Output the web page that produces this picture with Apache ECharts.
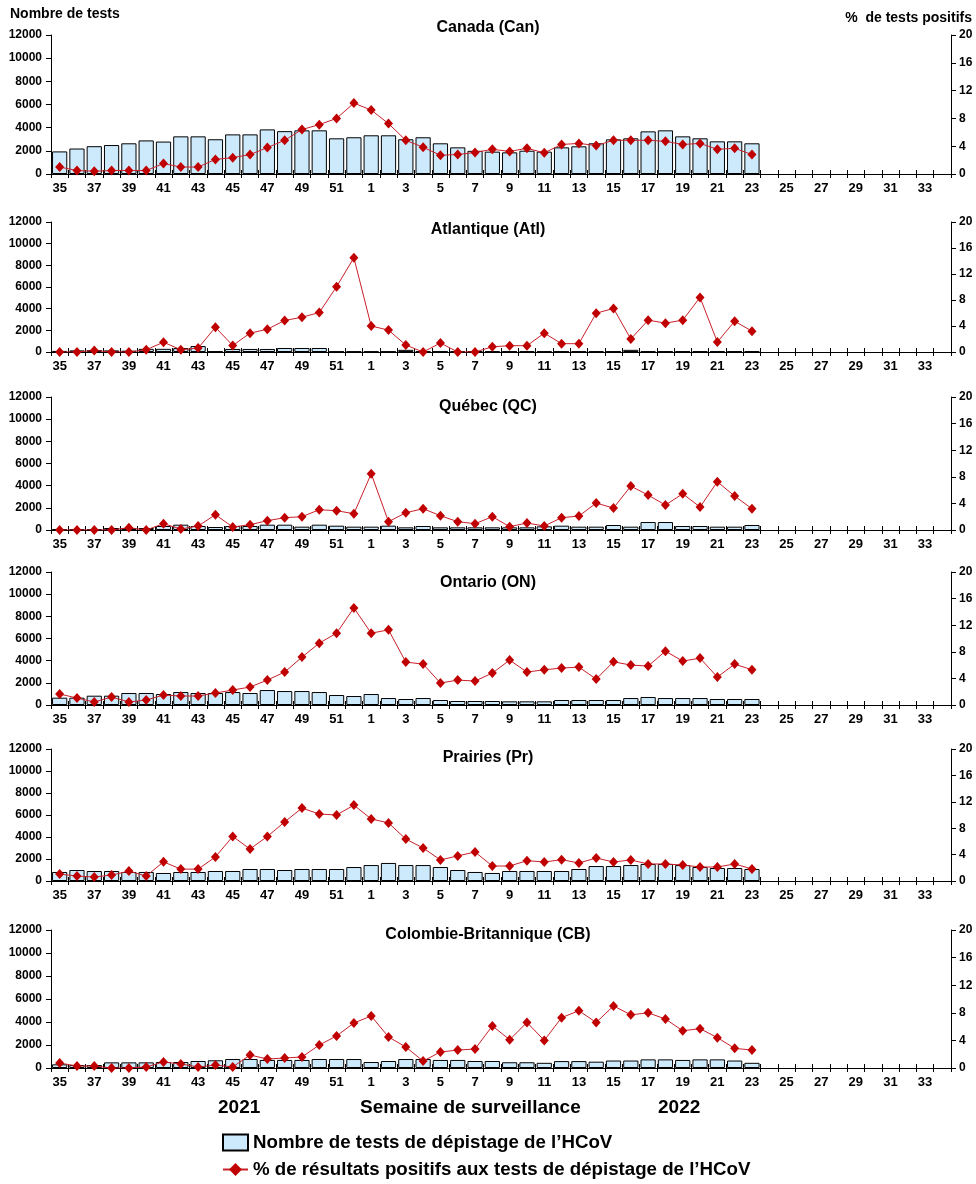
<!DOCTYPE html>
<html>
<head>
<meta charset="utf-8">
<script src="https://cdn.jsdelivr.net/npm/echarts@6/dist/echarts.min.js"></script>
<style>
html,body{margin:0;padding:0;background:#fff;}
#c{width:976px;height:1184px;}
</style>
</head>
<body>
<div id="c"></div>
<script>
// Surveillance weeks (2021 wk 35 – 2022 wk 34)
const weeks = ['35','36','37','38','39','40','41','42','43','44','45','46','47','48','49','50','51','52',
  '1','2','3','4','5','6','7','8','9','10','11','12','13','14','15','16','17','18','19','20','21','22','23',
  '24','25','26','27','28','29','30','31','32','33','34'];

const regionTitles = ['Canada (Can)','Atlantique (Atl)','Québec (QC)','Ontario (ON)','Prairies (Pr)','Colombie-Britannique (CB)'];

// Number of tests (weeks 35..23)
const testsCan = [1950,2200,2400,2500,2650,2900,2800,3250,3250,3000,3420,3420,3850,3700,3770,3770,3080,3170,
  3340,3340,3000,3170,2650,2300,2000,1930,1870,2010,1930,2300,2390,2650,2990,3080,3680,3770,3250,3080,2820,2820,2650];
const testsAtl = [100,150,180,150,120,290,290,360,550,60,280,280,280,370,370,370,50,50,
  50,50,200,50,60,60,60,60,60,60,60,60,60,60,60,200,60,60,60,60,60,60,60];
const testsQC = [60,60,90,180,180,180,360,480,360,270,360,360,480,480,300,480,390,300,
  300,390,240,360,240,240,240,240,240,240,330,390,300,300,450,300,720,720,360,360,300,300,450];
const testsON = [660,660,840,840,1080,1080,990,1170,1080,1080,1170,1080,1350,1260,1260,1170,900,810,
  990,630,540,630,450,360,360,360,330,330,330,450,450,450,450,630,720,630,630,630,540,540,540];
const testsPr = [820,1000,910,910,820,820,730,820,820,910,910,1090,1090,1000,1090,1090,1090,1270,
  1450,1640,1450,1450,1270,1000,820,730,910,910,910,910,1090,1360,1360,1450,1550,1550,1450,1270,1180,1180,1090];
const testsCB = [320,260,260,490,490,490,520,520,610,670,780,780,700,700,700,780,780,780,
  520,610,780,780,700,700,610,610,500,500,450,600,600,550,650,650,750,750,700,750,750,650,450];

// % positive (weeks 35..23)
const pctCan = [1.0,0.5,0.4,0.5,0.5,0.5,1.5,1.0,1.0,2.1,2.35,2.8,3.8,4.85,6.4,7.1,8.0,10.2,
  9.2,7.25,4.85,3.85,2.7,2.8,3.1,3.55,3.25,3.7,3.05,4.25,4.4,4.1,4.85,4.85,4.85,4.7,4.25,4.4,3.55,3.7,2.8];
const pctAtl = [0,0,0.25,0,0,0.35,1.5,0.35,0.6,3.8,1.0,2.9,3.5,4.85,5.35,6.07,10.05,14.5,
  4.0,3.37,1.07,0,1.38,0,0,0.8,0.97,0.97,2.9,1.28,1.28,5.97,6.7,2.0,4.9,4.44,4.9,8.4,1.53,4.74,3.2];
const pctQC = [0,0,0,0,0.35,0,0.95,0.15,0.6,2.3,0.45,0.8,1.4,1.85,2.0,3.05,2.9,2.45,
  8.47,1.25,2.6,3.2,2.15,1.25,0.95,2.0,0.5,1.05,0.6,1.85,2.1,4.05,3.3,6.6,5.25,3.75,5.45,3.45,7.25,5.1,3.2];
const pctON = [1.65,1.05,0.45,1.2,0.45,0.75,1.5,1.35,1.35,1.8,2.25,2.7,3.75,4.95,7.2,9.3,10.8,14.6,
  10.8,11.3,6.45,6.15,3.3,3.75,3.6,4.8,6.75,4.95,5.3,5.55,5.7,3.9,6.5,6.0,5.85,8.1,6.6,7.05,4.2,6.15,5.3];
const pctPr = [1.05,0.75,0.6,0.9,1.5,0.75,2.9,1.8,1.8,3.65,6.75,4.85,6.75,8.95,11.05,10.15,10.0,11.5,
  9.4,8.8,6.35,5.0,3.2,3.8,4.4,2.27,2.27,3.08,2.88,3.23,2.73,3.48,2.88,3.18,2.58,2.58,2.42,2.12,2.12,2.58,1.82];
const pctCB = [0.72,0.29,0.29,0,0,0.15,0.87,0.58,0.15,0.43,0.15,1.88,1.3,1.45,1.6,3.33,4.64,6.52,
  7.54,4.5,3.04,1.0,2.32,2.6,2.75,6.1,4.1,6.6,4.0,7.3,8.3,6.6,9.0,7.7,8.0,7.1,5.4,5.7,4.4,2.85,2.6];

const testsAll = [testsCan, testsAtl, testsQC, testsON, testsPr, testsCB];
const pctAll = [pctCan, pctAtl, pctQC, pctON, pctPr, pctCB];

const barName = "Nombre de tests de dépistage de l’HCoV";
const lineName = "% de résultats positifs aux tests de dépistage de l’HCoV";

const FONT = "'Liberation Sans', Arial, sans-serif";
const panels = [
  {top:35, height:139, titleTop:15},
  {top:222, height:130, titleTop:217},
  {top:397, height:133, titleTop:394},
  {top:572, height:133, titleTop:570},
  {top:749, height:132, titleTop:745},
  {top:930, height:138, titleTop:922}
];

const grid=[], xAxis=[], yAxis=[], series=[], title=[];
const axisLineStyle = {color:'#000', width:1};
const plain = v => String(v);
panels.forEach((p,i)=>{
  grid.push({left:51, right:25, top:p.top, height:p.height, containLabel:false});
  title.push({text:regionTitles[i], left:483, top:p.titleTop, textAlign:'center',
    textStyle:{fontFamily:FONT, fontWeight:'bold', fontSize:16, color:'#000'}});
  xAxis.push({type:'category', gridIndex:i, data:weeks, boundaryGap:true,
    axisLine:{lineStyle:axisLineStyle},
    axisTick:{show:true, interval:0, length:4, lineStyle:axisLineStyle},
    axisLabel:{interval:1, margin:8, color:'#000', fontFamily:FONT, fontWeight:'bold', fontSize:13},
    splitLine:{show:false}});
  xAxis.push({type:'category', gridIndex:i, data:weeks, boundaryGap:true, position:'bottom',
    axisLine:{show:false},
    axisTick:{show:true, inside:true, interval:0, length:4, lineStyle:axisLineStyle},
    axisLabel:{show:false}, splitLine:{show:false}});
  yAxis.push({type:'value', gridIndex:i, min:0, max:12000, interval:2000, position:'left',
    axisLine:{show:true, lineStyle:axisLineStyle},
    axisTick:{show:true, length:5, lineStyle:axisLineStyle},
    axisLabel:{margin:9, color:'#000', fontFamily:FONT, fontWeight:'bold', fontSize:12, formatter:plain},
    splitLine:{show:false}});
  yAxis.push({type:'value', gridIndex:i, min:0, max:20, interval:4, position:'right',
    axisLine:{show:true, lineStyle:axisLineStyle},
    axisTick:{show:true, length:5, lineStyle:axisLineStyle},
    axisLabel:{margin:8, color:'#000', fontFamily:FONT, fontWeight:'bold', fontSize:12, formatter:plain},
    splitLine:{show:false}});
  series.push({name:barName, type:'bar', xAxisIndex:2*i, yAxisIndex:2*i, data:testsAll[i],
    barCategoryGap:'12%', itemStyle:{color:'#cdeafc', borderColor:'#000', borderWidth:1}, z:2});
  series.push({name:lineName, type:'line', xAxisIndex:2*i, yAxisIndex:2*i+1, data:pctAll[i],
    symbol:'diamond', symbolSize:[9,10], lineStyle:{color:'#c8202a', width:1},
    itemStyle:{color:'#c00000'}, z:5});
});

const legendText = {fontFamily:FONT, fontWeight:'bold', fontSize:18.7, color:'#000'};
const chart = echarts.init(document.getElementById('c'), null, {renderer:'canvas'});
chart.setOption({
  animation:false,
  backgroundColor:'#fff',
  title:title,
  grid:grid, xAxis:xAxis, yAxis:yAxis, series:series,
  legend:[
    {data:[{name:barName, icon:'rect'}], left:217, top:1128, itemWidth:25, itemHeight:16, itemGap:3,
      textStyle:legendText, selectedMode:false},
    {data:[lineName], left:217, top:1155, itemWidth:25, itemHeight:16, itemGap:3,
      textStyle:legendText, selectedMode:false}
  ],
  graphic:[
    {type:'text', left:10, top:7, style:{text:'Nombre de tests', font:"bold 14px 'Liberation Sans', Arial", fill:'#000'}},
    {type:'text', right:4, top:11, style:{text:'%  de tests positifs', font:"bold 14px 'Liberation Sans', Arial", fill:'#000'}},
    {type:'text', left:218, top:1098, style:{text:'2021', font:"bold 19px 'Liberation Sans', Arial", fill:'#000'}},
    {type:'text', left:360, top:1098, style:{text:'Semaine de surveillance', font:"bold 19px 'Liberation Sans', Arial", fill:'#000'}},
    {type:'text', left:658, top:1098, style:{text:'2022', font:"bold 19px 'Liberation Sans', Arial", fill:'#000'}}
  ]
});
</script>
</body>
</html>
